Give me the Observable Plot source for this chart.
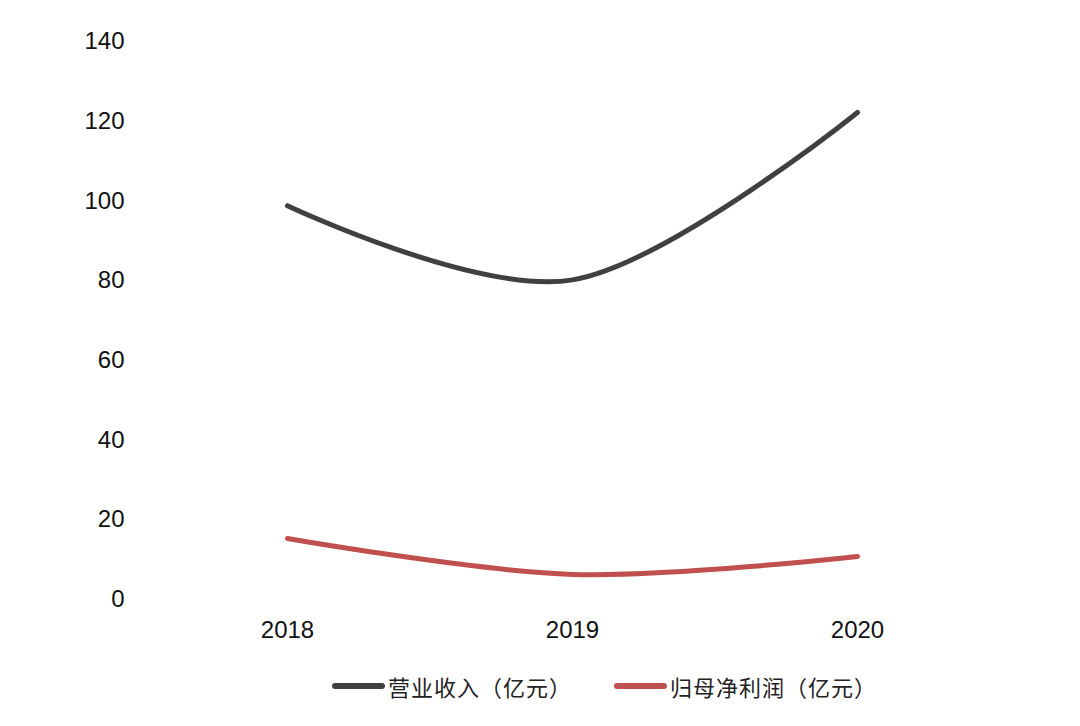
<!DOCTYPE html>
<html>
<head>
<meta charset="utf-8">
<script src="https://cdn.jsdelivr.net/npm/d3@7"></script>
<script src="https://cdn.jsdelivr.net/npm/@observablehq/plot@0.6"></script>
<style>
  html, body { margin: 0; padding: 0; background: #fff; }
  #chart { width: 1080px; }
  .legend { position: relative; height: 60px; font-family: "Noto Sans CJK SC", sans-serif; font-size: 22px; color: #222; }
  .item { position: absolute; top: 11px; display: flex; align-items: center; }
  .sw { width: 53px; height: 6px; border-radius: 3px; margin-right: 3px; }
  .txt { letter-spacing: 1px; }
</style>
</head>
<body>
<div id="chart"></div>
<script>
const years = [2018, 2019, 2020];
const revenue = [98.8, 80.2, 122.2];
const netProfit = [15.3, 6.3, 10.8];
const seriesNames = ["营业收入（亿元）", "归母净利润（亿元）"];
const seriesColors = ["#404040", "#C0504D"];
const yTicks = [0, 20, 40, 60, 80, 100, 120, 140];

const data = [
  ...years.map((y, i) => ({year: y, value: revenue[i], series: seriesNames[0]})),
  ...years.map((y, i) => ({year: y, value: netProfit[i], series: seriesNames[1]}))
];

const plot = Plot.plot({
  width: 1080,
  height: 659,
  marginTop: 41,
  marginBottom: 60,
  marginLeft: 131,
  marginRight: 223,
  x: {type: "linear", domain: [2018, 2020], insetLeft: 156},
  y: {domain: [0, 140]},
  color: {domain: seriesNames, range: seriesColors},
  style: {background: "#fff"},
  marks: [
    Plot.axisY({ticks: yTicks, tickSize: 0, tickPadding: 7, label: null,
      fontSize: 24, fontFamily: "Liberation Sans, Arial, sans-serif", fill: "#111"}),
    Plot.axisX({ticks: years, tickFormat: d => String(d), tickSize: 0, tickPadding: 21, label: null,
      fontSize: 24, fontFamily: "Liberation Sans, Arial, sans-serif", fill: "#111"}),
    Plot.line(data, {x: "year", y: "value", z: "series", stroke: "series",
      strokeWidth: 5, curve: "cardinal", tension: 0, strokeLinecap: "round"})
  ]
});
document.getElementById("chart").appendChild(plot);

const legend = document.createElement("div");
legend.className = "legend";
const lefts = [332, 614];
seriesNames.forEach((name, i) => {
  const item = document.createElement("div");
  item.className = "item";
  item.style.left = lefts[i] + "px";
  item.innerHTML = `<span class="sw" style="background:${seriesColors[i]}"></span><span class="txt">${name}</span>`;
  legend.appendChild(item);
});
document.getElementById("chart").appendChild(legend);
</script>
</body>
</html>
